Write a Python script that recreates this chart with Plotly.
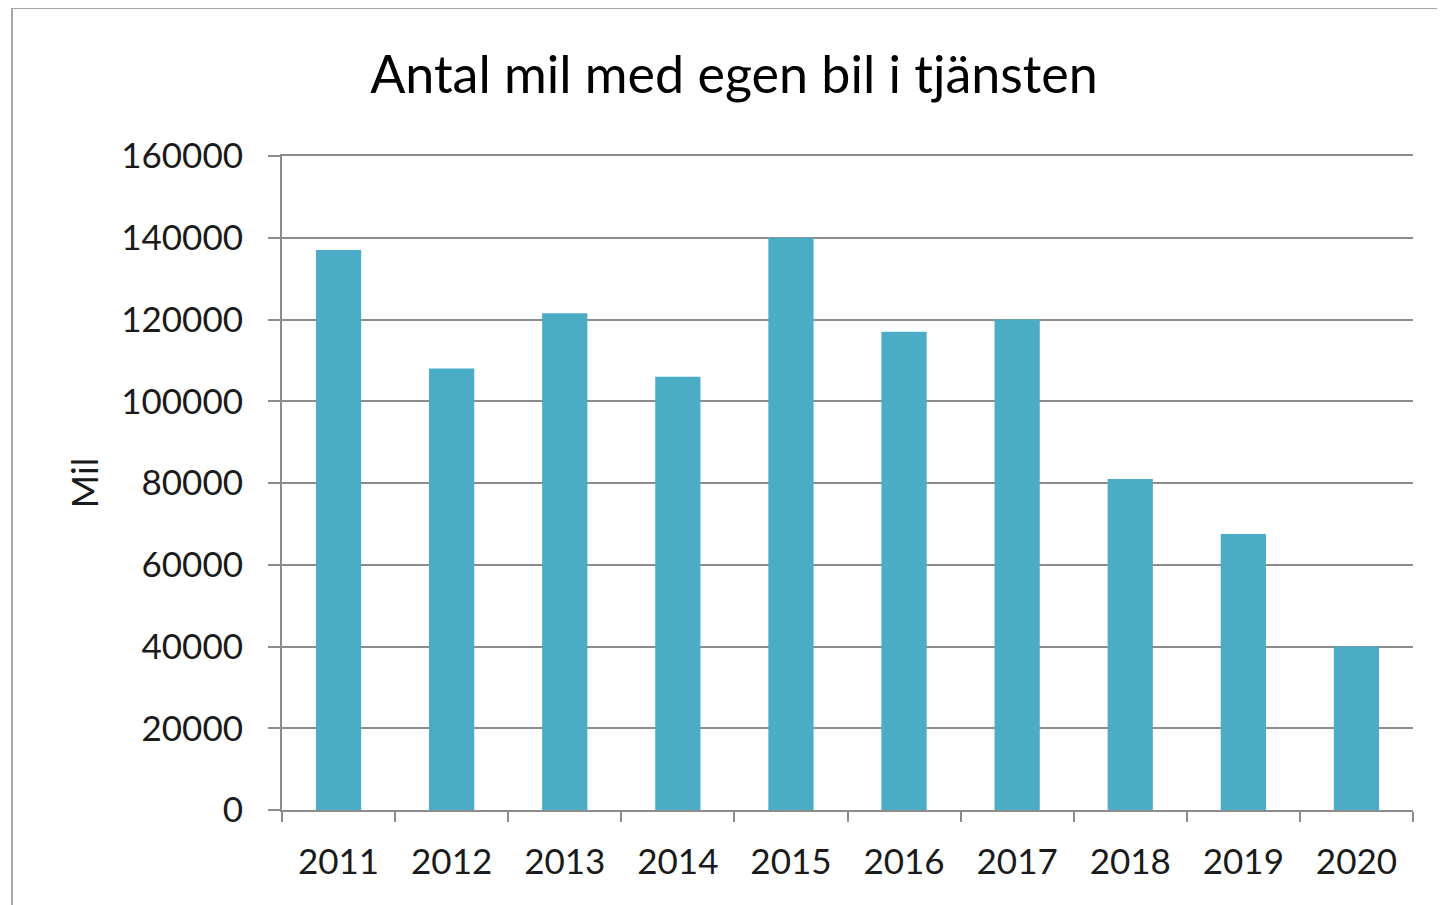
import plotly.graph_objects as go

years = ["2011", "2012", "2013", "2014", "2015", "2016", "2017", "2018", "2019", "2020"]
mil = [137000, 108000, 121500, 106000, 140000, 117000, 120000, 81000, 67500, 40000]
y_ticks = [0, 20000, 40000, 60000, 80000, 100000, 120000, 140000, 160000]

# page body has an 8px margin; work in figure coordinates
OFF = 8
W, H = 1445 - OFF, 905 - OFF
L, R, T, B = 282 - OFF, 32, 156 - OFF, 95
pw, ph = W - L - R, H - T - B

fig = go.Figure(go.Bar(x=years, y=mil, marker=dict(color="#4BACC6", line=dict(width=0)), width=0.4))

def px2x(p):
    return (p - OFF - L) / pw

def py2y(p):
    return (H - B - (p - OFF)) / ph

fig.add_shape(type="rect", xref="paper", yref="paper",
              x0=px2x(12), x1=px2x(1470), y0=py2y(8), y1=py2y(930),
              line=dict(color="#a6a6a6", width=2), fillcolor="rgba(0,0,0,0)", layer="below")

fig.update_layout(
    width=W, height=H,
    margin=dict(l=L, r=R, t=T, b=B),
    paper_bgcolor="white", plot_bgcolor="white",
    font=dict(family="Lato", color="#1a1a1a", size=35),
    title=dict(text="Antal mil med egen bil i tjänsten", x=((367 + 1101) / 2 - OFF) / W, xanchor="center",
               y=1 - (75 - OFF) / H, yanchor="middle", font=dict(size=52, family="Lato", color="#000")),
    showlegend=False,
    bargap=0.6,
)
fig.update_xaxes(type="category", showline=True, mirror=True, linecolor="#8c8c8c", linewidth=2,
                 ticks="outside", tickson="boundaries", ticklen=10, tickwidth=2, tickcolor="#8c8c8c",
                 showgrid=False, tickfont=dict(size=35), ticklabelstandoff=20)
fig.update_yaxes(range=[0, 160000], tickvals=y_ticks, ticktext=[str(v) for v in y_ticks],
                 showline=True, linecolor="#8c8c8c", linewidth=2,
                 ticks="outside", ticklen=12, tickwidth=2, tickcolor="#8c8c8c",
                 showgrid=True, gridcolor="#8c8c8c", gridwidth=2, zeroline=False,
                 tickfont=dict(size=35), ticklabelstandoff=18,
                 title=dict(text="Mil", font=dict(size=36), standoff=12))

fig.write_html("out.html")
